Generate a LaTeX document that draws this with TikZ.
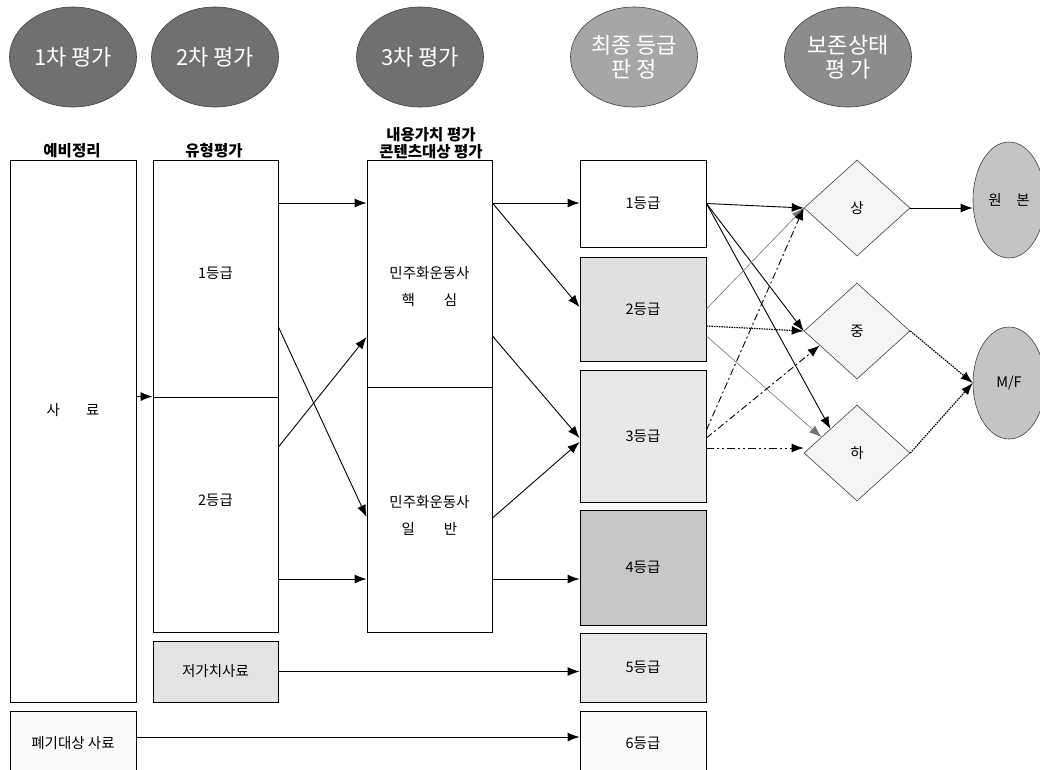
\documentclass[tikz,border=0pt]{standalone}
\usepackage{fontspec}
\setmainfont{Noto Sans CJK KR}
\usetikzlibrary{shapes.geometric,arrows.meta,calc}

\begin{document}
\begin{tikzpicture}[x=1pt,y=-1pt,>={Latex[length=12pt,width=9pt]},
	box/.style={draw,line width=0.9pt,inner sep=0pt,minimum width=125pt,font=\fontsize{14.5}{18}\selectfont,align=center},
	txt/.style={font=\fontsize{14.5}{27}\selectfont,align=center},
	stage/.style={ellipse,draw=black!75,line width=0.6pt,minimum width=127pt,minimum height=100pt,inner sep=0pt,text=white,font=\fontsize{22}{24}\selectfont,align=center},
	head/.style={font=\bfseries\fontsize{15.5}{17}\selectfont,align=center},
	cond/.style={diamond,draw=black!75,fill=black!4,line width=0.6pt,minimum width=106pt,minimum height=96pt,inner sep=0pt,font=\fontsize{14.5}{18}\selectfont},
	media/.style={ellipse,draw=black!75,fill=black!23,line width=0.6pt,minimum width=72pt,inner sep=0pt,font=\fontsize{14.5}{18}\selectfont},
	faint/.style={draw=black!55,line width=0.6pt},
	dotline/.style={dash pattern=on 1.5pt off 1pt,line width=1.2pt},
	dashdot/.style={dash pattern=on 7pt off 3pt on 2pt off 3pt},
	dashdotdot/.style={dash pattern=on 8pt off 3pt on 2pt off 3pt on 2pt off 3pt}]
	\useasboundingbox[fill=white] (0,0) rectangle (1040,769);

	\node[stage,fill=black!56] (s1) at (73,57) {1차 평가};
	\node[stage,fill=black!56] (s2) at (215,57) {2차 평가};
	\node[stage,fill=black!56] (s3) at (420,57) {3차 평가};
	\node[stage,fill=black!35] (s4) at (634,57) {최종 등급\\판 정};
	\node[stage,fill=black!45] (s5) at (848,57) {보존상태\\평 가};

	\node[head] (h1) at (72,151) {예비정리};
	\node[head] (h2) at (214,151) {유형평가};
	\node[head] (h3) at (431,143) {내용가치 평가\\콘텐츠대상 평가};

	\node[box,minimum width=126pt,minimum height=542pt] (saryo) at (73,431) {};
	\node[txt] (saryotxt) at (73,410) {사\hspace{1.8em}료};
	\node[box,fill=black!2,minimum width=126pt,minimum height=64pt] (waste) at (73,743) {폐기대상 사료};

	\node[box,minimum height=237pt] (t1) at (215.5,278.5) {};
	\node[txt] (t1txt) at (215.5,273) {1등급};
	\node[box,minimum height=235pt] (t2) at (215.5,514.5) {};
	\node[txt] (t2txt) at (215.5,500) {2등급};
	\node[box,fill=black!11,minimum height=61pt] (low) at (215.5,671.5) {저가치사료};

	\node[box,minimum height=227pt] (core) at (429.5,273.5) {};
	\node[txt] (coretxt) at (429.5,287) {민주화운동사\\핵\hspace{2em}심};
	\node[box,minimum height=245pt] (gen) at (429.5,509.5) {};
	\node[txt] (gentxt) at (429.5,515) {민주화운동사\\일\hspace{2em}반};

	\node[box,minimum width=126pt,minimum height=87pt] (g1) at (643,203.5) {1등급};
	\node[box,fill=black!12,minimum width=126pt,minimum height=104pt] (g2) at (643,309) {2등급};
	\node[box,fill=black!9,minimum width=126pt,minimum height=132pt] (g3) at (643,436) {3등급};
	\node[box,fill=black!22,minimum width=126pt,minimum height=115pt] (g4) at (643,567.5) {4등급};
	\node[box,fill=black!9,minimum width=126pt,minimum height=69pt] (g5) at (643,667.5) {5등급};
	\node[box,fill=black!2,minimum width=126pt,minimum height=64pt] (g6) at (643,743) {6등급};

	\node[cond] (hi) at (857,208) {상};
	\node[cond] (mid) at (857,331) {중};
	\node[cond] (lo) at (857,453) {하};

	\node[media,minimum height=116pt] (orig) at (1009,200) {원\hspace{1em}본};
	\node[media,minimum height=112pt] (mf) at (1009,383) {M/F};

	\path[->,line width=0.9pt]
	(saryo.east |- t2.north west) edge (t2.north west)
	(t1.east |- 0,203) edge (core.west |- 0,203)
	(t1.east |- 0,327) edge (gen.west |- 0,517)
	(t2.east |- 0,447) edge (core.west |- 0,337)
	(t2.east |- 0,579) edge (gen.west |- 0,579)
	(core.east |- 0,203) edge (g1.west |- 0,203)
	(core.east |- 0,203) edge (g2.west |- 0,307)
	(core.east |- 0,336) edge (g3.west |- 0,438)
	(gen.east |- 0,518) edge (g3.west |- 0,442)
	(gen.east |- 0,579) edge (g4.west |- 0,579)
	(low.east) edge (g5.west |- low.east)
	(waste.east |- 0,737) edge (g6.west |- 0,737)
	(g1.east) edge (hi.west)
	(g1.east) edge (mid.west)
	(g1.east) edge ($(lo.west)!0.5!(lo.north)$)
	(hi.east) edge (orig.west |- hi.east);
	\path[->]
	(g2.east |- 0,309) edge[faint] (hi.west)
	(g2.east |- 0,326) edge[dotline] (mid.west)
	(g2.east |- 0,336) edge[faint] ($(lo.west)!0.33!(lo.north)$)
	(g3.east |- 0,430) edge[dashdot,line width=0.9pt] (hi.west)
	(g3.east |- 0,438) edge[dashdot,line width=0.9pt] ($(mid.west)!0.3!(mid.south)$)
	(g3.east |- 0,448) edge[dashdotdot,line width=0.9pt] (lo.west |- 0,448)
	(mid.east) edge[dotline] (mf.west)
	(lo.east) edge[dotline] (mf.west);
\end{tikzpicture}
\end{document}
